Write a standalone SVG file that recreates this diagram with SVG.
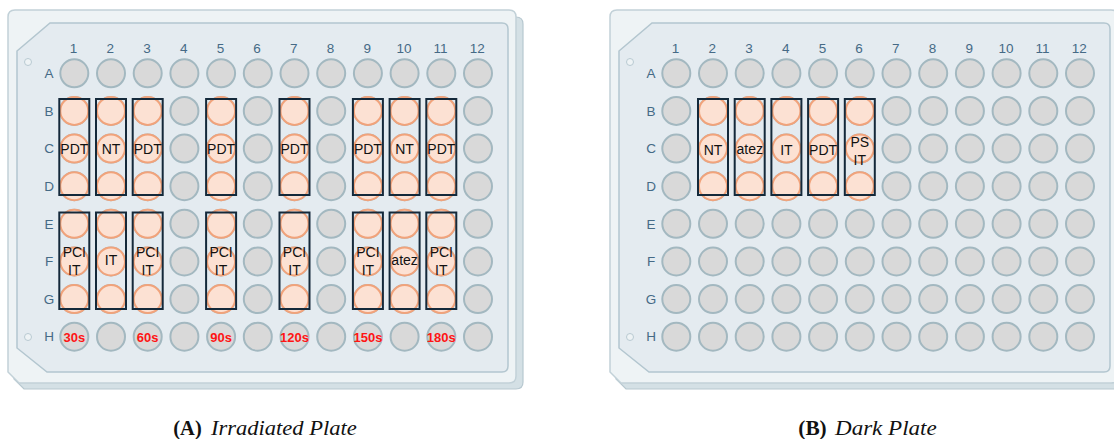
<svg xmlns="http://www.w3.org/2000/svg" xmlns:xlink="http://www.w3.org/1999/xlink" width="1114" height="439" viewBox="0 0 1114 439">
<style>
.base{fill:#d4e0e5;stroke:#b7c8d0;stroke-width:1.2}
.body{fill:#eef3f5;stroke:#c2d1d8;stroke-width:1.5}
.inner{fill:#e4ebf0;stroke:#b3c6cf;stroke-width:1.5}
.hole{fill:#eef3f5;stroke:#b9cad2;stroke-width:1}
.lbl{font-family:"Liberation Sans",Arial,sans-serif;font-size:13.5px;fill:#456a86;text-anchor:middle}
.w{font-family:"Liberation Sans",Arial,sans-serif;font-size:14px;fill:#111;text-anchor:middle}
.t{font-family:"Liberation Sans",Arial,sans-serif;font-weight:bold;font-size:13px;fill:#ff1414;text-anchor:middle}
.g{fill:#d9d9d9;stroke:#a3b8c0;stroke-width:2}
.o{fill:#fce1d3;stroke:#f1a37b;stroke-width:2}
.box{fill:none;stroke:#14293a;stroke-width:2}
.cap{font-family:"Liberation Serif","Times New Roman",serif;font-size:20.5px;fill:#111}
</style>
<defs>
<g id="plate">
<path class="base" d="M22,17 H516 Q523,17 523,24 V382 Q523,389 516,389 H24 L14,379 V24 Q14,17 22,17 Z"/>
<path class="body" d="M15,10 H509 Q516,10 516,17 V376 Q516,383 509,383 H19 L8,372 V17 Q8,10 15,10 Z"/>
<path class="inner" d="M17,51 L50,23 H502 Q508,23 508,29 V366 Q508,372 502,372 H47 L17,348 Z"/>
<circle class="hole" cx="28" cy="62" r="3.5"/>
<circle class="hole" cx="28" cy="337" r="3.5"/>
<text class="lbl" x="73.6" y="53">1</text><text class="lbl" x="110.3" y="53">2</text><text class="lbl" x="147" y="53">3</text><text class="lbl" x="183.7" y="53">4</text><text class="lbl" x="220.4" y="53">5</text><text class="lbl" x="257.1" y="53">6</text><text class="lbl" x="293.8" y="53">7</text><text class="lbl" x="330.5" y="53">8</text><text class="lbl" x="367.2" y="53">9</text><text class="lbl" x="403.9" y="53">10</text><text class="lbl" x="440.6" y="53">11</text><text class="lbl" x="477.3" y="53">12</text>
<text class="lbl" x="49" y="78">A</text><text class="lbl" x="49" y="115.6">B</text><text class="lbl" x="49" y="153.3">C</text><text class="lbl" x="49" y="190.9">D</text><text class="lbl" x="49" y="228.5">E</text><text class="lbl" x="49" y="266.2">F</text><text class="lbl" x="49" y="303.8">G</text><text class="lbl" x="49" y="341.4">H</text>
<use xlink:href="#row" y="73.3"/><use xlink:href="#row" y="110.9"/><use xlink:href="#row" y="148.6"/><use xlink:href="#row" y="186.2"/><use xlink:href="#row" y="223.8"/><use xlink:href="#row" y="261.5"/><use xlink:href="#row" y="299.1"/><use xlink:href="#row" y="336.7"/>
</g>
<g id="row">
<circle class="g" cx="74.3" cy="0" r="14"/><circle class="g" cx="111" cy="0" r="14"/><circle class="g" cx="147.7" cy="0" r="14"/><circle class="g" cx="184.4" cy="0" r="14"/><circle class="g" cx="221.1" cy="0" r="14"/><circle class="g" cx="257.8" cy="0" r="14"/><circle class="g" cx="294.5" cy="0" r="14"/><circle class="g" cx="331.2" cy="0" r="14"/><circle class="g" cx="367.9" cy="0" r="14"/><circle class="g" cx="404.6" cy="0" r="14"/><circle class="g" cx="441.3" cy="0" r="14"/><circle class="g" cx="478" cy="0" r="14"/>
</g>
<g id="o3"><circle class="o" cx="0" cy="0" r="14"/><circle class="o" cx="0" cy="37.65" r="14"/><circle class="o" cx="0" cy="75.3" r="14"/></g>
</defs>

<g id="plate-a">
<use xlink:href="#plate"/>
<g id="a-treated-wells">
<use xlink:href="#o3" x="74.3" y="110.9"/><use xlink:href="#o3" x="111" y="110.9"/><use xlink:href="#o3" x="147.7" y="110.9"/><use xlink:href="#o3" x="221.1" y="110.9"/><use xlink:href="#o3" x="294.5" y="110.9"/><use xlink:href="#o3" x="367.9" y="110.9"/><use xlink:href="#o3" x="404.6" y="110.9"/><use xlink:href="#o3" x="441.3" y="110.9"/>
<use xlink:href="#o3" x="74.3" y="223.8"/><use xlink:href="#o3" x="111" y="223.8"/><use xlink:href="#o3" x="147.7" y="223.8"/><use xlink:href="#o3" x="221.1" y="223.8"/><use xlink:href="#o3" x="294.5" y="223.8"/><use xlink:href="#o3" x="367.9" y="223.8"/><use xlink:href="#o3" x="404.6" y="223.8"/><use xlink:href="#o3" x="441.3" y="223.8"/>
</g>
<g id="a-labels-top">
<text class="w" x="74.3" y="154">PDT</text><text class="w" x="111" y="154">NT</text><text class="w" x="147.7" y="154">PDT</text><text class="w" x="221.1" y="154">PDT</text><text class="w" x="294.5" y="154">PDT</text><text class="w" x="367.9" y="154">PDT</text><text class="w" x="404.6" y="154">NT</text><text class="w" x="441.3" y="154">PDT</text>
</g>
<g id="a-labels-bottom">
<text class="w" x="74.3" y="257">PCI</text><text class="w" x="74.3" y="275">IT</text>
<text class="w" x="111" y="265">IT</text>
<text class="w" x="147.7" y="257">PCI</text><text class="w" x="147.7" y="275">IT</text>
<text class="w" x="221.1" y="257">PCI</text><text class="w" x="221.1" y="275">IT</text>
<text class="w" x="294.5" y="257">PCI</text><text class="w" x="294.5" y="275">IT</text>
<text class="w" x="367.9" y="257">PCI</text><text class="w" x="367.9" y="275">IT</text>
<text class="w" x="404.6" y="265">atez</text>
<text class="w" x="441.3" y="257">PCI</text><text class="w" x="441.3" y="275">IT</text>
</g>
<g id="a-times">
<text class="t" x="74.3" y="341.5">30s</text><text class="t" x="147.7" y="341.5">60s</text><text class="t" x="221.1" y="341.5">90s</text><text class="t" x="294.5" y="341.5">120s</text><text class="t" x="367.9" y="341.5">150s</text><text class="t" x="441.3" y="341.5">180s</text>
</g>
<g id="a-boxes">
<rect class="box" x="59.3" y="99" width="30" height="96"/><rect class="box" x="96" y="99" width="30" height="96"/><rect class="box" x="132.7" y="99" width="30" height="96"/><rect class="box" x="206.1" y="99" width="30" height="96"/><rect class="box" x="279.5" y="99" width="30" height="96"/><rect class="box" x="352.9" y="99" width="30" height="96"/><rect class="box" x="389.6" y="99" width="30" height="96"/><rect class="box" x="426.3" y="99" width="30" height="96"/>
<rect class="box" x="59.3" y="212.5" width="30" height="96.5"/><rect class="box" x="96" y="212.5" width="30" height="96.5"/><rect class="box" x="132.7" y="212.5" width="30" height="96.5"/><rect class="box" x="206.1" y="212.5" width="30" height="96.5"/><rect class="box" x="279.5" y="212.5" width="30" height="96.5"/><rect class="box" x="352.9" y="212.5" width="30" height="96.5"/><rect class="box" x="389.6" y="212.5" width="30" height="96.5"/><rect class="box" x="426.3" y="212.5" width="30" height="96.5"/>
</g>
</g>

<g id="plate-b" transform="translate(602,0)">
<use xlink:href="#plate"/>
<g id="b-treated-wells">
<use xlink:href="#o3" x="111" y="110.9"/><use xlink:href="#o3" x="147.7" y="110.9"/><use xlink:href="#o3" x="184.4" y="110.9"/><use xlink:href="#o3" x="221.1" y="110.9"/><use xlink:href="#o3" x="257.8" y="110.9"/>
</g>
<g id="b-labels">
<text class="w" x="111" y="155">NT</text><text class="w" x="147.7" y="154">atez</text><text class="w" x="184.4" y="155">IT</text><text class="w" x="221.1" y="155">PDT</text>
<text class="w" x="257.8" y="147">PS</text><text class="w" x="257.8" y="165">IT</text>
</g>
<g id="b-boxes">
<rect class="box" x="96" y="99" width="30" height="96"/><rect class="box" x="132.7" y="99" width="30" height="96"/><rect class="box" x="169.4" y="99" width="30" height="96"/><rect class="box" x="206.1" y="99" width="30" height="96"/><rect class="box" x="242.8" y="99" width="30" height="96"/>
</g>
</g>

<g id="captions">
<text class="cap" x="173.3" y="435" font-weight="bold" textLength="28.4" lengthAdjust="spacingAndGlyphs">(A)</text>
<text class="cap" x="211" y="435" font-style="italic" textLength="145.7" lengthAdjust="spacingAndGlyphs">Irradiated Plate</text>
<text class="cap" x="798.3" y="435" font-weight="bold" textLength="28.4" lengthAdjust="spacingAndGlyphs">(B)</text>
<text class="cap" x="835" y="435" font-style="italic" textLength="101.7" lengthAdjust="spacingAndGlyphs">Dark Plate</text>
</g>
</svg>
